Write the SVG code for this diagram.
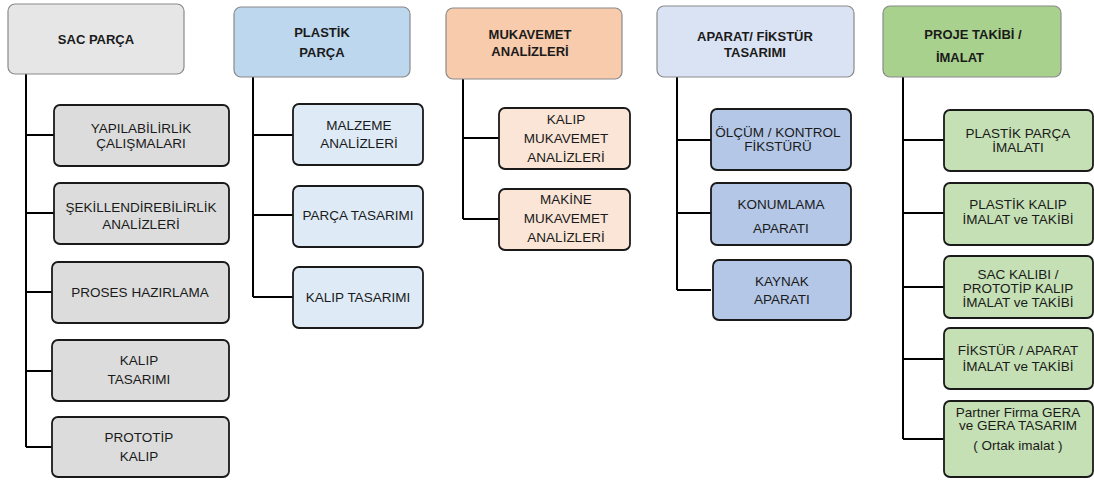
<svg xmlns="http://www.w3.org/2000/svg" width="1094" height="480" viewBox="0 0 1094 480">
<style>
.hd{stroke:#8a8a8a;stroke-width:1.2}
.ch{stroke:#1a1a1a;stroke-width:1.8}
.ht{font-family:"Liberation Sans",Arial,sans-serif;font-size:13px;font-weight:bold;fill:#1a1a1a;text-anchor:middle}
.ct{font-family:"Liberation Sans",Arial,sans-serif;font-size:13.5px;fill:#1a1a1a;text-anchor:middle}
.cn{stroke:#000;stroke-width:2;fill:none}
.g1{fill:#e6e6e6}.g1c{fill:#dcdcdc}
.b1{fill:#bdd7ee}.b1c{fill:#deebf7}
.o1{fill:#f8cbad}.o1c{fill:#fbe5d6}
.l1{fill:#dae3f3}.l1c{fill:#b4c7e7}
.v1{fill:#a9d18e}.v1c{fill:#c5e0b4}
</style>
<g id="connectors">
<path class="cn" d="M26 74V447M26 135H54M26 213H54M26 292H52M26 371H52M26 447H52"/>
<path class="cn" d="M253 77V297M253 135H293M253 215H293M253 297H293"/>
<path class="cn" d="M463 79V219M463 138H499M463 219H499"/>
<path class="cn" d="M677 77V290M677 140H711M677 213H711M677 290H711"/>
<path class="cn" d="M903 77V439M903 140H944M903 213H944M903 287H944M903 359H944M903 439H944"/>
</g>
<g id="n-sac">
<rect class="hd g1" x="8" y="4" width="176" height="70" rx="7"/>
<text class="ht" x="96" y="44">SAC PARÇA</text>
</g>
<g id="n-sac-1"><rect class="ch g1c" x="54" y="105" width="175" height="61" rx="6"/>
<text class="ct" x="141" y="133">YAPILABİLİRLİK</text><text class="ct" x="141" y="148">ÇALIŞMALARI</text></g>
<g id="n-sac-2"><rect class="ch g1c" x="54" y="183" width="175" height="61" rx="6"/>
<text class="ct" x="141" y="212">ŞEKİLLENDİREBİLİRLİK</text><text class="ct" x="141" y="229">ANALİZLERİ</text></g>
<g id="n-sac-3"><rect class="ch g1c" x="52" y="262" width="177" height="61" rx="6"/>
<text class="ct" x="140" y="297">PROSES HAZIRLAMA</text></g>
<g id="n-sac-4"><rect class="ch g1c" x="52" y="340" width="177" height="61" rx="6"/>
<text class="ct" x="139" y="365">KALIP</text><text class="ct" x="139" y="384">TASARIMI</text></g>
<g id="n-sac-5"><rect class="ch g1c" x="52" y="417" width="177" height="60" rx="6"/>
<text class="ct" x="139" y="442">PROTOTİP</text><text class="ct" x="139" y="461">KALIP</text></g>

<g id="n-plastik">
<rect class="hd b1" x="234" y="7" width="176" height="70" rx="7"/>
<text class="ht" x="322" y="37">PLASTİK</text><text class="ht" x="322" y="57">PARÇA</text>
</g>
<g id="n-plastik-1"><rect class="ch b1c" x="293" y="104" width="130" height="61" rx="6"/>
<text class="ct" x="359" y="130">MALZEME</text><text class="ct" x="359" y="148">ANALİZLERİ</text></g>
<g id="n-plastik-2"><rect class="ch b1c" x="293" y="186" width="130" height="61" rx="6"/>
<text class="ct" x="358" y="220">PARÇA TASARIMI</text></g>
<g id="n-plastik-3"><rect class="ch b1c" x="293" y="267" width="130" height="61" rx="6"/>
<text class="ct" x="358" y="302">KALIP TASARIMI</text></g>

<g id="n-mukavemet">
<rect class="hd o1" x="446" y="8" width="176" height="71" rx="7"/>
<text class="ht" x="530" y="39">MUKAVEMET</text><text class="ht" x="530" y="56">ANALİZLERİ</text>
</g>
<g id="n-muk-1"><rect class="ch o1c" x="499" y="108" width="131" height="61" rx="6"/>
<text class="ct" x="566" y="124">KALIP</text><text class="ct" x="566" y="143">MUKAVEMET</text><text class="ct" x="566" y="162">ANALİZLERİ</text></g>
<g id="n-muk-2"><rect class="ch o1c" x="499" y="189" width="131" height="61" rx="6"/>
<text class="ct" x="566" y="204">MAKİNE</text><text class="ct" x="566" y="223">MUKAVEMET</text><text class="ct" x="566" y="242">ANALİZLERİ</text></g>

<g id="n-aparat">
<rect class="hd l1" x="657" y="6" width="197" height="71" rx="7"/>
<text class="ht" x="755" y="41">APARAT/ FİKSTÜR</text><text class="ht" x="755" y="57">TASARIMI</text>
</g>
<g id="n-ap-1"><rect class="ch l1c" x="711" y="109" width="140" height="61" rx="6"/>
<text class="ct" x="778" y="137">ÖLÇÜM / KONTROL</text><text class="ct" x="778" y="151">FİKSTÜRÜ</text></g>
<g id="n-ap-2"><rect class="ch l1c" x="711" y="183" width="140" height="62" rx="6"/>
<text class="ct" x="781" y="208.5">KONUMLAMA</text><text class="ct" x="781" y="232.5">APARATI</text></g>
<g id="n-ap-3"><rect class="ch l1c" x="713" y="260" width="138" height="60" rx="6"/>
<text class="ct" x="782" y="286">KAYNAK</text><text class="ct" x="782" y="304">APARATI</text></g>

<g id="n-proje">
<rect class="hd v1" x="883" y="6" width="178" height="71" rx="7"/>
<text class="ht" x="973" y="39">PROJE TAKİBİ /</text><text class="ht" x="960" y="62">İMALAT</text>
</g>
<g id="n-pr-1"><rect class="ch v1c" x="944" y="110" width="149" height="61" rx="6"/>
<text class="ct" x="1018" y="137.5">PLASTİK PARÇA</text><text class="ct" x="1018" y="152">İMALATI</text></g>
<g id="n-pr-2"><rect class="ch v1c" x="944" y="183" width="149" height="62" rx="6"/>
<text class="ct" x="1018" y="208.5">PLASTİK KALIP</text><text class="ct" x="1018" y="223.5">İMALAT ve TAKİBİ</text></g>
<g id="n-pr-3"><rect class="ch v1c" x="944" y="256" width="149" height="62" rx="6"/>
<text class="ct" x="1018" y="278.5">SAC KALIBI /</text><text class="ct" x="1018" y="292.5">PROTOTİP KALIP</text><text class="ct" x="1018" y="306.5">İMALAT ve TAKİBİ</text></g>
<g id="n-pr-4"><rect class="ch v1c" x="944" y="328" width="149" height="61" rx="6"/>
<text class="ct" x="1018" y="355">FİKSTÜR / APARAT</text><text class="ct" x="1018" y="371">İMALAT ve TAKİBİ</text></g>
<g id="n-pr-5"><rect class="ch v1c" x="944" y="401" width="149" height="76" rx="6"/>
<text class="ct" x="1018" y="417">Partner Firma GERA</text><text class="ct" x="1018" y="430">ve GERA TASARIM</text><text class="ct" x="1018" y="450">( Ortak imalat )</text></g>
</svg>
